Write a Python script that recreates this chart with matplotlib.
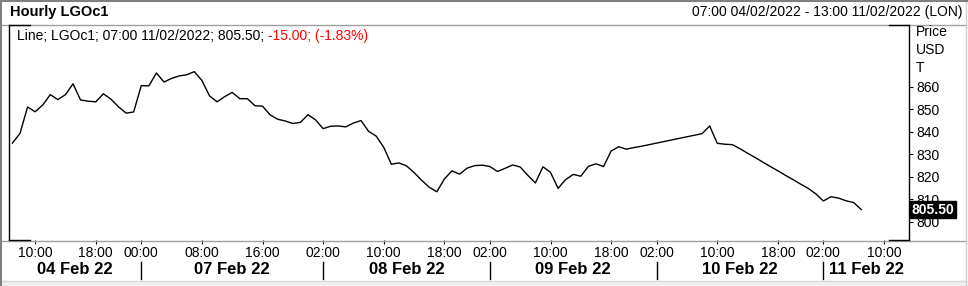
import matplotlib.pyplot as plt
from matplotlib.lines import Line2D
from matplotlib.patches import Rectangle
from matplotlib.transforms import blended_transform_factory

plt.rcParams['font.family'] = ['Liberation Sans', 'DejaVu Sans']

# ==================== DATA ====================
day_labels = ['04 Feb 22', '07 Feb 22', '08 Feb 22', '09 Feb 22', '10 Feb 22', '11 Feb 22']
# trading hours shown on the axis for each day
day_hours = [list(range(7, 24)), list(range(0, 23)), list(range(1, 23)),
             list(range(1, 23)), list(range(1, 23)), list(range(1, 14))]
tick_hours = [[10, 18], [0, 8, 16], [2, 10, 18], [2, 10, 18], [2, 10, 18], [2, 10]]

# hourly LGOc1 closes, 07:00 04/02/2022 .. 07:00 11/02/2022
prices = [835.0, 839.3, 851.0, 848.9, 851.9, 856.5, 854.3, 856.5, 861.3, 854.1,
          853.6, 853.3, 856.9, 854.5, 851.1, 848.3, 848.8, 860.5, 860.4, 866.1,
          862.1, 863.7, 864.8, 865.3, 866.7, 862.8, 856.0, 853.3, 855.6, 857.5,
          854.7, 854.7, 851.6, 851.4, 847.5, 845.6, 844.8, 843.7, 844.2, 847.6,
          845.3, 841.4, 842.5, 842.6, 842.2, 843.9, 845.0, 840.2, 838.1, 833.1,
          825.6, 826.2, 824.9, 821.9, 818.5, 815.4, 813.4, 819.1, 822.7, 821.2,
          823.9, 825.0, 825.2, 824.6, 822.4, 823.8, 825.3, 824.4, 820.7, 817.3,
          824.5, 822.0, 814.9, 818.8, 821.1, 820.3, 824.7, 825.8, 824.6, 831.5,
          833.4, 832.3, 833.0, 833.6, 834.3, 835.0, 835.7, 836.4, 837.1, 837.8,
          838.5, 839.2, 842.6, 834.9, 834.5, 834.3, 832.5, 830.5, 828.6, 826.6,
          824.6, 822.7, 820.7, 818.8, 816.8, 814.9, 812.5, 809.3, 811.2, 810.6,
          809.4, 808.6, 805.5]
last_price = 805.50
y_ticks = [800, 810, 820, 830, 840, 850, 860]

title = 'Hourly LGOc1'
range_text = '07:00 04/02/2022 - 13:00 11/02/2022 (LON)'
legend_black = 'Line; LGOc1; 07:00 11/02/2022; 805.50; '
legend_red = '-15.00; (-1.83%)'
units = ['Price', 'USD', 'T']

# ==================== INDEX BARS ====================
bars = [(d, h) for d, hrs in enumerate(day_hours) for h in hrs]
bar_index = {b: i for i, b in enumerate(bars)}

xticks, xlabels = [], []
for d, hrs in enumerate(tick_hours):
    for h in hrs:
        xticks.append(bar_index[(d, h)])
        xlabels.append(f'{h:02d}:00')
separators = [bar_index[(d, tick_hours[d][0])] for d in range(1, len(day_labels))]

# ==================== FIGURE ====================
W, H = 968, 286
fig = plt.figure(figsize=(W / 100, H / 100), dpi=100)


def fx(px):
    return px / W


def fy(py):
    return 1 - py / H


ax = fig.add_axes([fx(9), fy(240), fx(900), 215 / H])
ax.plot(range(len(prices)), prices, color='black', lw=1.0)

xmin, xmax = -0.45, len(bars) - 1 + 0.3
ax.set_xlim(xmin, xmax)
ax.set_ylim(792.0, 887.4)

ax.set_xticks(xticks)
ax.set_xticklabels(xlabels, fontsize=10)
ax.set_yticks(y_ticks)
ax.yaxis.tick_right()
ax.tick_params(axis='x', length=3, width=0.8, pad=1.5)
ax.tick_params(axis='y', length=3, width=0.8, pad=2.5, labelsize=10)

for side in ['top', 'bottom']:
    ax.spines[side].set_visible(False)
for side in ['left', 'right']:
    ax.spines[side].set_color('black')
    ax.spines[side].set_linewidth(1.0)

# last price tag
ax.annotate(f'{last_price:.2f}', xy=(1, last_price),
            xycoords=('axes fraction', 'data'), xytext=(2, 0),
            textcoords='offset points', va='center', ha='left',
            color='white', fontsize=10, fontweight='bold',
            bbox=dict(boxstyle='square,pad=0.12', fc='black', ec='black'),
            annotation_clip=False, zorder=10)

# legend line
t1 = ax.text(fx(17), fy(36), legend_black, transform=fig.transFigure,
             fontsize=10, va='center', ha='left')
ax.annotate(legend_red, xy=(1, 0), xycoords=t1, va='bottom', ha='left',
            fontsize=10, color='#ff0000')

# header
fig.text(fx(10), fy(12), title, fontsize=10.5, fontweight='bold', va='center')
fig.text(fx(962), fy(12), range_text, fontsize=10, va='center', ha='right')
for i, u in enumerate(units):
    fig.text(fx(916), fy(32 + 18 * i), u, fontsize=10, va='center', ha='left')

# day labels and separators
bt = blended_transform_factory(ax.transData, fig.transFigure)
bounds = [xmin] + separators + [xmax]
for i, lab in enumerate(day_labels):
    ax.text((bounds[i] + bounds[i + 1]) / 2, fy(269), lab, transform=bt,
            fontsize=12, fontweight='bold', ha='center', va='center')
for s in separators:
    ax.add_line(Line2D([s, s], [fy(262), fy(279)], transform=bt,
                       color='black', lw=1.0, clip_on=False))

# frame decorations
gray = '#a0a0a0'
fig.add_artist(Line2D([fx(1), fx(966)], [fy(25), fy(25)], color=gray, lw=1.0))
fig.add_artist(Line2D([fx(1), fx(966)], [fy(241), fy(241)], color=gray, lw=1.0))
fig.add_artist(Rectangle((0, 0), 1, fy(281), color='#f0f0f0', zorder=-5))
fig.add_artist(Line2D([fx(1), fx(966)], [fy(281), fy(281)], color='#d8d8d8', lw=1.0))
fig.add_artist(Line2D([fx(1), fx(1)], [0, 1], color='#808080', lw=1.5))
fig.add_artist(Line2D([fx(966), fx(966)], [0, 1], color='#d0d0d0', lw=1.0))
fig.add_artist(Line2D([0, 1], [fy(1), fy(1)], color='#808080', lw=1.5))
for x0, x1 in [(9, 30), (889, 909)]:
    for yy in [25, 240]:
        fig.add_artist(Line2D([fx(x0), fx(x1)], [fy(yy), fy(yy)], color='black', lw=1.0))

fig.savefig('out.png', dpi=100)
